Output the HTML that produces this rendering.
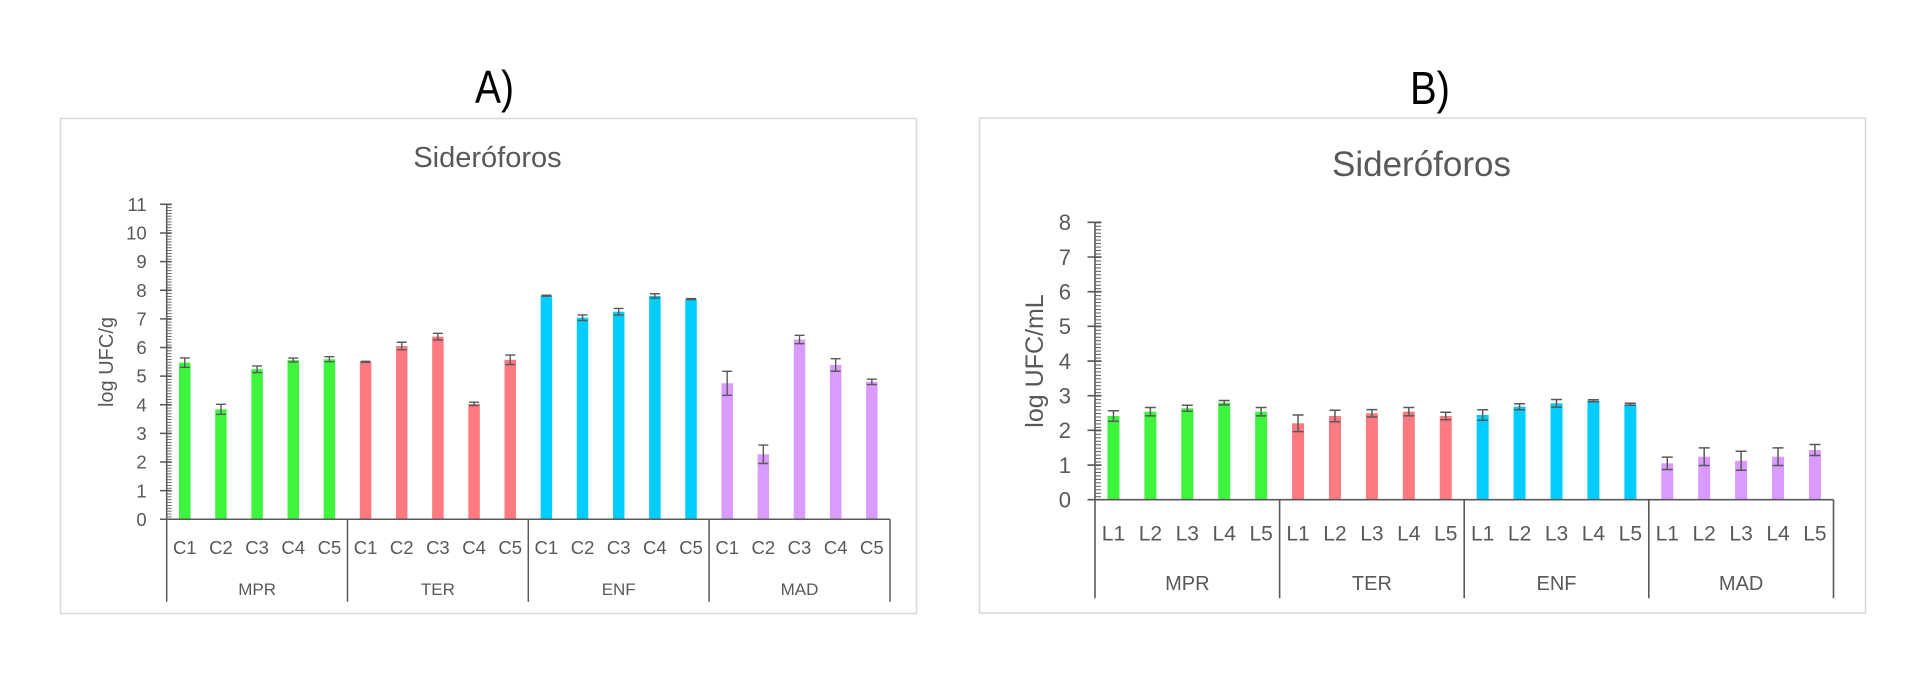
<!DOCTYPE html>
<html>
<head>
<meta charset="utf-8">
<style>
  html, body { margin: 0; padding: 0; background: #ffffff; }
  svg { display: block; }
  text { font-family: "Liberation Sans", "DejaVu Sans", sans-serif; }
</style>
</head>
<body>
<svg width="1920" height="682" viewBox="0 0 1920 682" xmlns="http://www.w3.org/2000/svg">
  <defs>
    <pattern id="pA" x="166.7" y="519.3" width="6" height="2.8636" patternUnits="userSpaceOnUse">
      <rect x="0" y="0" width="5" height="0.9" fill="#595959"/>
    </pattern>
    <pattern id="pB" x="1095" y="499.7" width="7" height="3.4675" patternUnits="userSpaceOnUse">
      <rect x="0" y="0" width="6" height="1" fill="#595959"/>
    </pattern>
  </defs>
  <rect x="0" y="0" width="1920" height="682" fill="#ffffff"/>

  <!-- Panel labels -->
  <text x="475" y="103" font-size="46" fill="#000" textLength="39" lengthAdjust="spacingAndGlyphs">A)</text>
  <text x="1410" y="104" font-size="46" fill="#000" textLength="40" lengthAdjust="spacingAndGlyphs">B)</text>

  <!-- ================= CHART A ================= -->
  <rect x="60.5" y="118.5" width="856" height="495" fill="#fff" stroke="#D9D9D9" stroke-width="1.5"/>
  <text x="487.5" y="167" font-size="29" fill="#595959" text-anchor="middle">Sideróforos</text>

  <!-- bars A -->
  <g fill="#3EF53E">
    <rect x="179.03" y="362.66" width="11.5" height="156.64"/>
    <rect x="215.19" y="409.34" width="11.5" height="109.96"/>
    <rect x="251.35" y="369.25" width="11.5" height="150.05"/>
    <rect x="287.51" y="360.09" width="11.5" height="159.21"/>
    <rect x="323.67" y="359.23" width="11.5" height="160.07"/>
  </g>
  <g fill="#FF7A80">
    <rect x="359.83" y="361.8" width="11.5" height="157.5"/>
    <rect x="395.99" y="346.05" width="11.5" height="173.25"/>
    <rect x="432.15" y="336.6" width="11.5" height="182.7"/>
    <rect x="468.31" y="403.9" width="11.5" height="115.4"/>
    <rect x="504.47" y="359.8" width="11.5" height="159.5"/>
  </g>
  <g fill="#00CCFF">
    <rect x="540.63" y="295.65" width="11.5" height="223.65"/>
    <rect x="576.79" y="317.7" width="11.5" height="201.6"/>
    <rect x="612.95" y="311.69" width="11.5" height="207.61"/>
    <rect x="649.11" y="295.94" width="11.5" height="223.36"/>
    <rect x="685.27" y="299.09" width="11.5" height="220.21"/>
  </g>
  <g fill="#D99BFF">
    <rect x="721.43" y="383.28" width="11.5" height="136.02"/>
    <rect x="757.59" y="454.3" width="11.5" height="65"/>
    <rect x="793.75" y="339.47" width="11.5" height="179.83"/>
    <rect x="829.91" y="364.95" width="11.5" height="154.35"/>
    <rect x="866.07" y="381.85" width="11.5" height="137.45"/>
  </g>

  <!-- error bars A -->
  <g stroke="#595959" stroke-width="1.4" fill="none">
    <path d="M179.78 357.96H189.78M184.78 357.96V367.36M179.78 367.36H189.78"/>
    <path d="M215.94 404.34H225.94M220.94 404.34V414.34M215.94 414.34H225.94"/>
    <path d="M252.1 365.95H262.1M257.1 365.95V372.55M252.1 372.55H262.1"/>
    <path d="M288.26 358.09H298.26M293.26 358.09V362.09M288.26 362.09H298.26"/>
    <path d="M324.42 356.73H334.42M329.42 356.73V361.73M324.42 361.73H334.42"/>

    <path d="M360.58 361.3H370.58M365.58 361.3V362.3M360.58 362.3H370.58"/>
    <path d="M396.74 342.25H406.74M401.74 342.25V349.85M396.74 349.85H406.74"/>
    <path d="M432.9 333.3H442.9M437.9 333.3V339.9M432.9 339.9H442.9"/>
    <path d="M469.06 402.2H479.06M474.06 402.2V405.6M469.06 405.6H479.06"/>
    <path d="M505.22 355.1H515.22M510.22 355.1V364.5M505.22 364.5H515.22"/>

    <path d="M541.38 295.15H551.38M546.38 295.15V296.15M541.38 296.15H551.38"/>
    <path d="M577.54 314.9H587.54M582.54 314.9V320.5M577.54 320.5H587.54"/>
    <path d="M613.7 308.39H623.7M618.7 308.39V314.99M613.7 314.99H623.7"/>
    <path d="M649.86 293.74H659.86M654.86 293.74V298.14M649.86 298.14H659.86"/>
    <path d="M686.02 298.59H696.02M691.02 298.59V299.59M686.02 299.59H696.02"/>

    <path d="M722.18 371.28H732.18M727.18 371.28V395.28M722.18 395.28H732.18"/>
    <path d="M758.34 445.1H768.34M763.34 445.1V463.5M758.34 463.5H768.34"/>
    <path d="M794.5 335.27H804.5M799.5 335.27V343.67M794.5 343.67H804.5"/>
    <path d="M830.66 358.65H840.66M835.66 358.65V371.25M830.66 371.25H840.66"/>
    <path d="M866.82 379.15H876.82M871.82 379.15V384.55M866.82 384.55H876.82"/>
  </g>

  <!-- axes A -->
  <rect x="166.7" y="204.3" width="5" height="315" fill="url(#pA)"/>
  <g stroke="#595959" stroke-width="1.5" fill="none">
    <path d="M166.7 204.3V519.3"/>
    <path d="M160 519.3H890"/>
    <path d="M160 490.66H171.7M160 462.03H171.7M160 433.39H171.7M160 404.76H171.7M160 376.12H171.7M160 347.48H171.7M160 318.85H171.7M160 290.21H171.7M160 261.58H171.7M160 232.94H171.7M160 204.3H171.7"/>
    <path d="M166.7 519.3V601.7M347.5 519.3V601.7M528.3 519.3V601.7M709.1 519.3V601.7M890 519.3V601.7"/>
  </g>
  <g font-size="18.5" fill="#595959" text-anchor="end">
    <text x="146.7" y="525.9">0</text>
    <text x="146.7" y="497.26">1</text>
    <text x="146.7" y="468.63">2</text>
    <text x="146.7" y="439.99">3</text>
    <text x="146.7" y="411.36">4</text>
    <text x="146.7" y="382.72">5</text>
    <text x="146.7" y="354.08">6</text>
    <text x="146.7" y="325.45">7</text>
    <text x="146.7" y="296.81">8</text>
    <text x="146.7" y="268.18">9</text>
    <text x="146.7" y="239.54">10</text>
    <text x="146.7" y="210.9">11</text>
  </g>
  <text transform="translate(107 362) rotate(-90)" font-size="20" fill="#595959" text-anchor="middle" dominant-baseline="central">log UFC/g</text>

  <g font-size="18.5" fill="#595959" text-anchor="middle">
    <text x="184.78" y="554">C1</text><text x="220.94" y="554">C2</text><text x="257.1" y="554">C3</text><text x="293.26" y="554">C4</text><text x="329.42" y="554">C5</text>
    <text x="365.58" y="554">C1</text><text x="401.74" y="554">C2</text><text x="437.9" y="554">C3</text><text x="474.06" y="554">C4</text><text x="510.22" y="554">C5</text>
    <text x="546.38" y="554">C1</text><text x="582.54" y="554">C2</text><text x="618.7" y="554">C3</text><text x="654.86" y="554">C4</text><text x="691.02" y="554">C5</text>
    <text x="727.18" y="554">C1</text><text x="763.34" y="554">C2</text><text x="799.5" y="554">C3</text><text x="835.66" y="554">C4</text><text x="871.82" y="554">C5</text>
  </g>
  <g font-size="17" fill="#595959" text-anchor="middle">
    <text x="257.1" y="595">MPR</text>
    <text x="437.9" y="595">TER</text>
    <text x="618.7" y="595">ENF</text>
    <text x="799.5" y="595">MAD</text>
  </g>

  <!-- ================= CHART B ================= -->
  <rect x="979.5" y="118" width="886" height="495" fill="#fff" stroke="#D9D9D9" stroke-width="1.5"/>
  <text x="1421.5" y="176" font-size="35" fill="#595959" text-anchor="middle">Sideróforos</text>

  <g fill="#3EF53E">
    <rect x="1107.46" y="416" width="12" height="83.7"/>
    <rect x="1144.38" y="411.7" width="12" height="88"/>
    <rect x="1181.3" y="408.3" width="12" height="91.4"/>
    <rect x="1218.22" y="402.7" width="12" height="97"/>
    <rect x="1255.14" y="411.7" width="12" height="88"/>
  </g>
  <g fill="#FF7A80">
    <rect x="1292.06" y="423.3" width="12" height="76.4"/>
    <rect x="1328.98" y="416" width="12" height="83.7"/>
    <rect x="1365.9" y="413.3" width="12" height="86.4"/>
    <rect x="1402.82" y="411.7" width="12" height="88"/>
    <rect x="1439.74" y="416" width="12" height="83.7"/>
  </g>
  <g fill="#00CCFF">
    <rect x="1476.66" y="415" width="12" height="84.7"/>
    <rect x="1513.58" y="406.7" width="12" height="93"/>
    <rect x="1550.5" y="403.3" width="12" height="96.4"/>
    <rect x="1587.42" y="400.7" width="12" height="99"/>
    <rect x="1624.34" y="404.3" width="12" height="95.4"/>
  </g>
  <g fill="#D99BFF">
    <rect x="1661.26" y="463.3" width="12" height="36.4"/>
    <rect x="1698.18" y="456.7" width="12" height="43"/>
    <rect x="1735.1" y="460.7" width="12" height="39"/>
    <rect x="1772.02" y="456.7" width="12" height="43"/>
    <rect x="1808.94" y="450" width="12" height="49.7"/>
  </g>

  <g stroke="#595959" stroke-width="1.5" fill="none">
    <path d="M1107.96 410.7H1118.96M1113.46 410.7V421.3M1107.96 421.3H1118.96"/>
    <path d="M1144.88 407.5H1155.88M1150.38 407.5V415.9M1144.88 415.9H1155.88"/>
    <path d="M1181.8 405.3H1192.8M1187.3 405.3V411.3M1181.8 411.3H1192.8"/>
    <path d="M1218.72 400.5H1229.72M1224.22 400.5V404.9M1218.72 404.9H1229.72"/>
    <path d="M1255.64 407.5H1266.64M1261.14 407.5V415.9M1255.64 415.9H1266.64"/>

    <path d="M1292.56 415H1303.56M1298.06 415V431.6M1292.56 431.6H1303.56"/>
    <path d="M1329.48 410.3H1340.48M1334.98 410.3V421.7M1329.48 421.7H1340.48"/>
    <path d="M1366.4 409.6H1377.4M1371.9 409.6V417M1366.4 417H1377.4"/>
    <path d="M1403.32 407.5H1414.32M1408.82 407.5V415.9M1403.32 415.9H1414.32"/>
    <path d="M1440.24 412.3H1451.24M1445.74 412.3V419.7M1440.24 419.7H1451.24"/>

    <path d="M1477.16 409.7H1488.16M1482.66 409.7V420.3M1477.16 420.3H1488.16"/>
    <path d="M1514.08 403.7H1525.08M1519.58 403.7V409.7M1514.08 409.7H1525.08"/>
    <path d="M1551 399.5H1562M1556.5 399.5V407.1M1551 407.1H1562"/>
    <path d="M1587.92 399.7H1598.92M1593.42 399.7V401.7M1587.92 401.7H1598.92"/>
    <path d="M1624.84 403.3H1635.84M1630.34 403.3V405.3M1624.84 405.3H1635.84"/>

    <path d="M1661.76 457.1H1672.76M1667.26 457.1V469.5M1661.76 469.5H1672.76"/>
    <path d="M1698.68 447.9H1709.68M1704.18 447.9V465.5M1698.68 465.5H1709.68"/>
    <path d="M1735.6 451.2H1746.6M1741.1 451.2V470.2M1735.6 470.2H1746.6"/>
    <path d="M1772.52 447.9H1783.52M1778.02 447.9V465.5M1772.52 465.5H1783.52"/>
    <path d="M1809.44 444.5H1820.44M1814.94 444.5V455.5M1809.44 455.5H1820.44"/>
  </g>

  <rect x="1095" y="222.3" width="6" height="277.4" fill="url(#pB)"/>
  <g stroke="#595959" stroke-width="1.6" fill="none">
    <path d="M1095 222.3V499.7"/>
    <path d="M1087.5 499.7H1833.5"/>
    <path d="M1087.5 465.03H1101.5M1087.5 430.36H1101.5M1087.5 395.69H1101.5M1087.5 361.02H1101.5M1087.5 326.35H1101.5M1087.5 291.68H1101.5M1087.5 257.01H1101.5M1087.5 222.34H1101.5"/>
    <path d="M1095 499.7V598.3M1279.6 499.7V598.3M1464.2 499.7V598.3M1648.8 499.7V598.3M1833.5 499.7V598.3"/>
  </g>
  <g font-size="22" fill="#595959" text-anchor="end">
    <text x="1071" y="507.5">0</text>
    <text x="1071" y="472.83">1</text>
    <text x="1071" y="438.16">2</text>
    <text x="1071" y="403.49">3</text>
    <text x="1071" y="368.82">4</text>
    <text x="1071" y="334.15">5</text>
    <text x="1071" y="299.48">6</text>
    <text x="1071" y="264.81">7</text>
    <text x="1071" y="230.14">8</text>
  </g>
  <text transform="translate(1035 361) rotate(-90)" font-size="25" fill="#595959" text-anchor="middle" dominant-baseline="central">log UFC/mL</text>

  <g font-size="21" fill="#595959" text-anchor="middle">
    <text x="1113.46" y="540.7">L1</text><text x="1150.38" y="540.7">L2</text><text x="1187.3" y="540.7">L3</text><text x="1224.22" y="540.7">L4</text><text x="1261.14" y="540.7">L5</text>
    <text x="1298.06" y="540.7">L1</text><text x="1334.98" y="540.7">L2</text><text x="1371.9" y="540.7">L3</text><text x="1408.82" y="540.7">L4</text><text x="1445.74" y="540.7">L5</text>
    <text x="1482.66" y="540.7">L1</text><text x="1519.58" y="540.7">L2</text><text x="1556.5" y="540.7">L3</text><text x="1593.42" y="540.7">L4</text><text x="1630.34" y="540.7">L5</text>
    <text x="1667.26" y="540.7">L1</text><text x="1704.18" y="540.7">L2</text><text x="1741.1" y="540.7">L3</text><text x="1778.02" y="540.7">L4</text><text x="1814.94" y="540.7">L5</text>
  </g>
  <g font-size="20" fill="#595959" text-anchor="middle">
    <text x="1187.3" y="590">MPR</text>
    <text x="1371.9" y="590">TER</text>
    <text x="1556.5" y="590">ENF</text>
    <text x="1741.1" y="590">MAD</text>
  </g>
</svg>
</body>
</html>
